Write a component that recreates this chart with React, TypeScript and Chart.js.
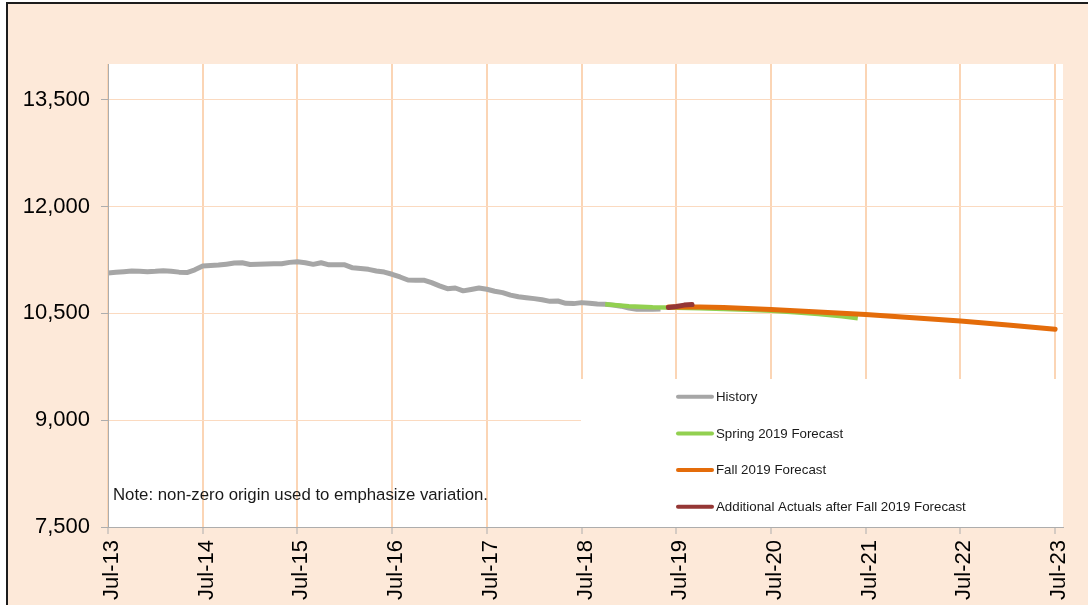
import React, { useEffect, useRef } from "react";
import { Chart, registerables } from "chart.js";

Chart.register(...registerables);

// Month index: 0 = Jul-13, 12 = Jul-14, ... 120 = Jul-23
const xTickLabels = ["Jul-13", "Jul-14", "Jul-15", "Jul-16", "Jul-17", "Jul-18", "Jul-19", "Jul-20", "Jul-21", "Jul-22", "Jul-23"];
const yTickValues = [7500, 9000, 10500, 12000, 13500];

const seriesNames = ["History", "Spring 2019 Forecast", "Fall 2019 Forecast", "Additional Actuals after Fall 2019 Forecast"];
const seriesColors = ["#A6A6A6", "#92D050", "#E46C0A", "#953735"];

const historyMonths = [
  0, 1, 2, 3, 4, 5, 6, 7, 8, 9, 10, 11, 12, 13, 14, 15, 16, 17, 18, 19, 20, 21, 22, 23,
  24, 25, 26, 27, 28, 29, 30, 31, 32, 33, 34, 35, 36, 37, 38, 39, 40, 41, 42, 43, 44, 45, 46, 47,
  48, 49, 50, 51, 52, 53, 54, 55, 56, 57, 58, 59, 60, 61, 62, 63, 64, 65, 66, 67, 68, 69, 70,
];
const historyValues = [
  11065, 11075, 11085, 11093, 11090, 11085, 11090, 11098, 11090, 11078, 11072, 11110,
  11163, 11172, 11177, 11190, 11205, 11210, 11185, 11188, 11192, 11195, 11197, 11215,
  11224, 11210, 11187, 11210, 11180, 11183, 11180, 11138, 11128, 11117, 11095, 11079,
  11048, 11010, 10968, 10963, 10965, 10930, 10885, 10846, 10855, 10815, 10835, 10855,
  10837, 10810, 10790, 10755, 10732, 10718, 10706, 10690, 10668, 10673, 10640, 10636,
  10650, 10640, 10630, 10627, 10615, 10600, 10575, 10558, 10556, 10556, 10560,
];

const springMonths = [63, 66, 69, 72, 75, 78, 81, 84, 87, 90, 93, 95];
const springValues = [10627, 10598, 10584, 10578, 10570, 10562, 10550, 10535, 10515, 10490, 10460, 10430];

const fallMonths = [71, 72, 75, 78, 81, 84, 90, 96, 102, 108, 114, 120];
const fallValues = [10588, 10590, 10588, 10580, 10568, 10553, 10520, 10482, 10438, 10392, 10335, 10276];

const actualMonths = [71, 72, 73, 74];
const actualValues = [10582, 10595, 10615, 10622];

const noteText = "Note: non-zero origin used to emphasize variation.";

const PEACH = "#FDE9D9";
const FONT = "'Liberation Sans', Arial, sans-serif";

const toPoints = (xs: number[], ys: number[]) => xs.map((x, i) => ({ x, y: ys[i] }));

const framePlugin = {
  id: "frame",
  beforeDraw(chart: any) {
    const { ctx, width, height, chartArea: a } = chart;
    ctx.save();
    ctx.fillStyle = "#ffffff";
    ctx.fillRect(0, 0, width, height);
    ctx.fillStyle = "#1c1c1c";
    ctx.fillRect(6, 2, width, 2);
    ctx.fillRect(6, 2, 2, height);
    ctx.fillStyle = PEACH;
    ctx.fillRect(8, 4, width, height);
    ctx.fillStyle = "#ffffff";
    ctx.fillRect(a.left, a.top, a.right - a.left, a.bottom - a.top);
    ctx.restore();
  },
  beforeDatasetsDraw(chart: any) {
    const { ctx, chartArea: a } = chart;
    ctx.save();
    ctx.fillStyle = "#ffffff";
    ctx.fillRect(a.left + 473, a.bottom - 148, a.right - (a.left + 473), 148);
    ctx.restore();
  },
  afterDraw(chart: any) {
    const { ctx, chartArea: a } = chart;
    ctx.save();
    const bx = a.left + 473;
    const by = a.bottom - 148;
    seriesNames.forEach((name, i) => {
      const y = by + 17.7 + i * 36.7;
      ctx.strokeStyle = seriesColors[i];
      ctx.lineWidth = 4;
      ctx.lineCap = "round";
      ctx.beginPath();
      ctx.moveTo(bx + 97, y);
      ctx.lineTo(bx + 131, y);
      ctx.stroke();
      ctx.fillStyle = "#1a1a1a";
      ctx.font = `13.3px ${FONT}`;
      ctx.textAlign = "left";
      ctx.textBaseline = "middle";
      ctx.fillText(name, bx + 135, y + 0.5);
    });
    ctx.fillStyle = "#1a1a1a";
    ctx.font = `16.8px ${FONT}`;
    ctx.textAlign = "left";
    ctx.textBaseline = "middle";
    ctx.fillText(noteText, a.left + 5, a.bottom - 32);
    ctx.restore();
  },
};

export default function App() {
  const ref = useRef<HTMLCanvasElement | null>(null);

  useEffect(() => {
    if (!ref.current) return;
    const chart = new Chart(ref.current, {
      type: "line",
      data: {
        datasets: [
          {
            label: seriesNames[3],
            data: toPoints(actualMonths, actualValues),
            borderColor: seriesColors[3],
            backgroundColor: seriesColors[3],
            borderWidth: 5,
            borderCapStyle: "round",
            borderJoinStyle: "round",
            pointRadius: 0,
            order: 0,
          },
          {
            label: seriesNames[2],
            data: toPoints(fallMonths, fallValues),
            borderColor: seriesColors[2],
            backgroundColor: seriesColors[2],
            borderWidth: 5,
            borderCapStyle: "round",
            borderJoinStyle: "round",
            pointRadius: 0,
            order: 1,
          },
          {
            label: seriesNames[1],
            data: toPoints(springMonths, springValues),
            borderColor: seriesColors[1],
            backgroundColor: seriesColors[1],
            borderWidth: 4.5,
            borderJoinStyle: "round",
            pointRadius: 0,
            order: 2,
          },
          {
            label: seriesNames[0],
            data: toPoints(historyMonths, historyValues),
            borderColor: seriesColors[0],
            backgroundColor: seriesColors[0],
            borderWidth: 5,
            borderJoinStyle: "round",
            pointRadius: 0,
            order: 3,
          },
        ],
      },
      options: {
        animation: false,
        responsive: false,
        devicePixelRatio: 1,
        layout: { padding: { left: 0, top: 64, right: 25, bottom: 0 } },
        plugins: {
          legend: { display: false },
          tooltip: { enabled: false },
        },
        scales: {
          x: {
            type: "linear",
            min: 0,
            max: 121,
            afterFit(scale: any) {
              scale.height = 78;
              scale.paddingLeft = 0;
              scale.paddingRight = 0;
            },
            grid: {
              color: "#FBD5B5",
              lineWidth: 2,
              tickColor: "#ADADAD",
              tickWidth: 1,
              tickLength: 7,
            },
            border: { color: "#ADADAD", width: 1, z: 1 },
            ticks: {
              stepSize: 12,
              includeBounds: false,
              autoSkip: false,
              minRotation: 90,
              maxRotation: 90,
              padding: 6,
              labelOffset: 4,
              color: "#000000",
              font: { family: FONT, size: 22 },
              callback: (v: any) => xTickLabels[Math.round(Number(v) / 12)] ?? "",
            },
          },
          y: {
            type: "linear",
            min: 7500,
            max: 14000,
            afterFit(scale: any) {
              scale.width = 108;
              scale.paddingTop = 0;
              scale.paddingBottom = 0;
            },
            afterBuildTicks(scale: any) {
              scale.ticks = yTickValues.map((value) => ({ value }));
            },
            grid: {
              color: "#FBDAC0",
              lineWidth: 1,
              tickColor: "#ADADAD",
              tickWidth: 1,
              tickLength: 7,
            },
            border: { color: "#ADADAD", width: 1, z: 1 },
            ticks: {
              includeBounds: false,
              padding: 11,
              color: "#000000",
              font: { family: FONT, size: 22 },
              callback: (v: any) => Number(v).toLocaleString("en-US"),
            },
          },
        },
      },
      plugins: [framePlugin],
    });
    return () => chart.destroy();
  }, []);

  return (
    <div style={{ position: "fixed", left: 0, top: 0, width: 1088, height: 605 }}>
      <canvas ref={ref} width={1088} height={605} style={{ display: "block" }} />
    </div>
  );
}
